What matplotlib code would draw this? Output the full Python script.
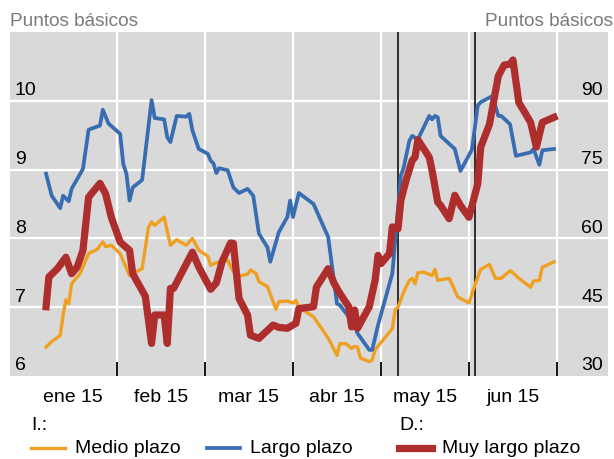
import matplotlib.pyplot as plt
from matplotlib.lines import Line2D
import pandas as pd

# Medio plazo (eje izquierdo)
medio_fechas = ['01-07', '01-09', '01-12', '01-13', '01-14', '01-15', '01-16', '01-19', '01-22', '01-25',
                '01-27', '01-28', '01-30', '02-02', '02-05', '02-09', '02-11', '02-12', '02-13', '02-16',
                '02-18', '02-20', '02-23', '02-25', '02-27', '03-02', '03-03', '03-04', '03-06', '03-09',
                '03-12', '03-16', '03-17', '03-19', '03-20', '03-23', '03-26', '03-27', '03-30', '04-01',
                '04-02', '04-03', '04-08', '04-13', '04-16', '04-17', '04-19', '04-21', '04-22', '04-23',
                '04-24', '04-27', '04-28', '04-29', '05-05', '05-06', '05-07', '05-09', '05-11', '05-12',
                '05-13', '05-14', '05-16', '05-19', '05-20', '05-21', '05-25', '05-26', '05-28', '06-01',
                '06-03', '06-05', '06-08', '06-10', '06-12', '06-15', '06-16', '06-18', '06-22', '06-23',
                '06-25', '06-26', '06-30']
medio = [6.42, 6.50, 6.59, 6.88, 7.11, 7.05, 7.34, 7.49, 7.78, 7.84,
         7.95, 7.88, 7.90, 7.78, 7.46, 7.56, 8.16, 8.24, 8.19, 8.31,
         7.90, 7.98, 7.90, 8.00, 7.83, 7.74, 7.61, 7.63, 7.66, 7.68,
         7.44, 7.48, 7.54, 7.49, 7.37, 7.30, 6.97, 7.08, 7.09, 7.06,
         7.10, 7.00, 6.86, 6.55, 6.30, 6.47, 6.47, 6.40, 6.43, 6.42,
         6.26, 6.21, 6.23, 6.38, 6.69, 6.96, 7.00, 7.22, 7.39, 7.42,
         7.34, 7.50, 7.51, 7.46, 7.55, 7.39, 7.42, 7.34, 7.15, 7.06,
         7.32, 7.55, 7.62, 7.42, 7.42, 7.53, 7.50, 7.42, 7.29, 7.38,
         7.39, 7.58, 7.66]

# Largo plazo (eje izquierdo)
largo_fechas = ['01-07', '01-09', '01-12', '01-13', '01-15', '01-16', '01-20', '01-22', '01-26', '01-27',
                '01-29', '02-02', '02-03', '02-04', '02-05', '02-06', '02-09', '02-12', '02-13', '02-16',
                '02-17', '02-18', '02-20', '02-23', '02-24', '02-25', '02-27', '03-02', '03-03', '03-04',
                '03-05', '03-06', '03-09', '03-11', '03-13', '03-16', '03-18', '03-20', '03-23', '03-24',
                '03-27', '03-30', '03-31', '04-01', '04-03', '04-08', '04-13', '04-16', '04-17', '04-20',
                '04-22', '04-23', '04-27', '04-28', '04-30', '05-05', '05-08', '05-09', '05-11', '05-12',
                '05-14', '05-18', '05-19', '05-20', '05-21', '05-22', '05-27', '05-29', '06-02', '06-04',
                '06-05', '06-09', '06-11', '06-12', '06-15', '06-17', '06-22', '06-23', '06-25', '06-26',
                '06-30']
largo = [8.94, 8.62, 8.44, 8.62, 8.54, 8.72, 9.01, 9.58, 9.64, 9.87,
         9.67, 9.52, 9.08, 8.94, 8.55, 8.74, 8.85, 10.01, 9.75, 9.73,
         9.47, 9.40, 9.78, 9.77, 9.81, 9.57, 9.30, 9.23, 9.13, 9.09,
         8.95, 9.02, 8.99, 8.74, 8.66, 8.72, 8.62, 8.07, 7.87, 7.66,
         8.09, 8.31, 8.55, 8.31, 8.66, 8.50, 8.02, 7.05, 7.03, 6.86,
         6.74, 6.62, 6.38, 6.38, 6.74, 7.49, 8.91, 9.03, 9.42, 9.49,
         9.44, 9.78, 9.73, 9.78, 9.76, 9.49, 9.30, 8.98, 9.29, 9.93,
         9.98, 10.07, 9.78, 9.78, 9.66, 9.20, 9.25, 9.30, 9.07, 9.28,
         9.30]

# Muy largo plazo (eje derecho)
muy_largo_fechas = ['01-07', '01-08', '01-11', '01-14', '01-16', '01-18', '01-20', '01-22', '01-26', '01-28',
                    '01-30', '02-02', '02-05', '02-06', '02-10', '02-12', '02-13', '02-16', '02-17', '02-18',
                    '02-19', '02-25', '02-27', '03-03', '03-05', '03-07', '03-10', '03-11', '03-13', '03-16',
                    '03-17', '03-20', '03-25', '03-27', '03-30', '04-02', '04-03', '04-08', '04-09', '04-13',
                    '04-15', '04-17', '04-20', '04-21', '04-22', '04-23', '04-27', '04-29', '04-30', '05-01',
                    '05-04', '05-05', '05-07', '05-08', '05-10', '05-12', '05-13', '05-14', '05-18', '05-19',
                    '05-21', '05-22', '05-25', '05-27', '05-29', '06-01', '06-04', '06-05', '06-08', '06-11',
                    '06-13', '06-15', '06-16', '06-18', '06-20', '06-22', '06-24', '06-26', '06-30']
muy_largo = [45.1, 51.6, 53.4, 55.9, 52.3, 53.8, 57.4, 69.0, 72.0, 69.7,
             64.6, 59.2, 57.4, 52.3, 47.4, 37.1, 43.3, 43.3, 37.1, 49.1,
             49.1, 57.0, 53.8, 48.9, 50.3, 54.9, 59.0, 58.9, 46.9, 43.3,
             38.9, 38.2, 41.1, 40.6, 40.4, 41.5, 44.7, 45.1, 49.4, 53.4,
             50.2, 48.0, 45.1, 40.7, 44.4, 40.4, 45.1, 50.9, 56.3, 54.5,
             56.7, 62.5, 62.1, 68.3, 73.0, 77.0, 77.7, 81.5, 77.7, 74.8,
             67.9, 67.2, 64.3, 69.4, 67.2, 64.6, 71.9, 79.9, 84.9, 95.4,
             97.8, 98.0, 98.9, 89.6, 87.5, 85.3, 79.9, 85.3, 86.4]

meses = ['ene 15', 'feb 15', 'mar 15', 'abr 15', 'may 15', 'jun 15']
eventos = ['05-07', '06-03']
ticks_izq = [6, 7, 8, 9, 10]
ticks_der = [30, 45, 60, 75, 90]

naranja = '#EFA021'
azul = '#386DB2'
rojo = '#AE2E2E'
gris = '#7A7A7A'
W, H = 614, 459


def pos(fecha):
    # cada mes ocupa el mismo ancho en el eje
    t = pd.Timestamp('2015-' + fecha)
    return t.month - 1 + (t.day - 1) / t.days_in_month


def px(x, y):
    return x / W, 1 - y / H


plt.rcParams['font.family'] = ['Liberation Sans', 'DejaVu Sans']

fig = plt.figure(figsize=(W / 100, H / 100), dpi=100)
ax = fig.add_axes([10 / W, (H - 376) / H, 598 / W, 344 / H])
ax.set_facecolor('#D9D9D9')
ax.set_xlim(-0.216, 6.58)
ax.set_ylim(6, 11)
for s in ax.spines.values():
    s.set_visible(False)

ax.set_xticks(range(1, 7))
ax.set_yticks([7, 8, 9, 10])
ax.tick_params(axis='x', direction='in', length=10, width=1.3, color='black', labelbottom=False)
ax.tick_params(axis='y', length=0, labelleft=False)
ax.grid(True, color='white', linewidth=1.6)
ax.set_axisbelow(True)

for e in eventos:
    ax.axvline(pos(e), color='black', linewidth=1.1, zorder=1.5)

ax.plot([pos(f) for f in medio_fechas], medio, color=naranja, linewidth=2.4, zorder=3)
ax.plot([pos(f) for f in largo_fechas], largo, color=azul, linewidth=2.7, zorder=3)

ax2 = ax.twinx()
ax2.set_ylim(30, 105)
ax2.axis('off')
ax2.plot([pos(f) for f in muy_largo_fechas], muy_largo, color=rojo, linewidth=5.2, zorder=3)

# etiquetas de los ejes dentro del gráfico
for v in ticks_izq:
    ax.text(0.008, v + 0.08, str(v), transform=ax.get_yaxis_transform(),
            ha='left', va='baseline', fontsize=14)
for v in ticks_der:
    ax2.text(0.9915, v + 1.2, str(v), transform=ax2.get_yaxis_transform(),
             ha='right', va='baseline', fontsize=14)

for i, m in enumerate(meses):
    ax.text(i + 0.5, -0.075, m, transform=ax.get_xaxis_transform(),
            ha='center', va='baseline', fontsize=14)

fig.text(*px(10, 26), 'Puntos básicos', color=gris, fontsize=13.7, ha='left', va='baseline')
fig.text(*px(613, 26), 'Puntos básicos', color=gris, fontsize=13.7, ha='right', va='baseline')

# leyenda
fig.text(*px(31, 430), 'I.:', fontsize=14, ha='left', va='baseline')
fig.text(*px(399, 430), 'D.:', fontsize=14, ha='left', va='baseline')
leyenda = [(31, 65, naranja, 2.4, 'Medio plazo'),
           (207, 240, azul, 2.7, 'Largo plazo'),
           (399, 432, rojo, 5.2, 'Muy largo plazo')]
for x0, x1, c, lw, txt in leyenda:
    (a0, b0), (a1, b1) = px(x0, 448), px(x1, 448)
    fig.add_artist(Line2D([a0, a1], [b0, b1], color=c, linewidth=lw, transform=fig.transFigure))
    fig.text(*px(x1 + 10, 453), txt, fontsize=14, ha='left', va='baseline')

fig.savefig('out.png', dpi=100)
